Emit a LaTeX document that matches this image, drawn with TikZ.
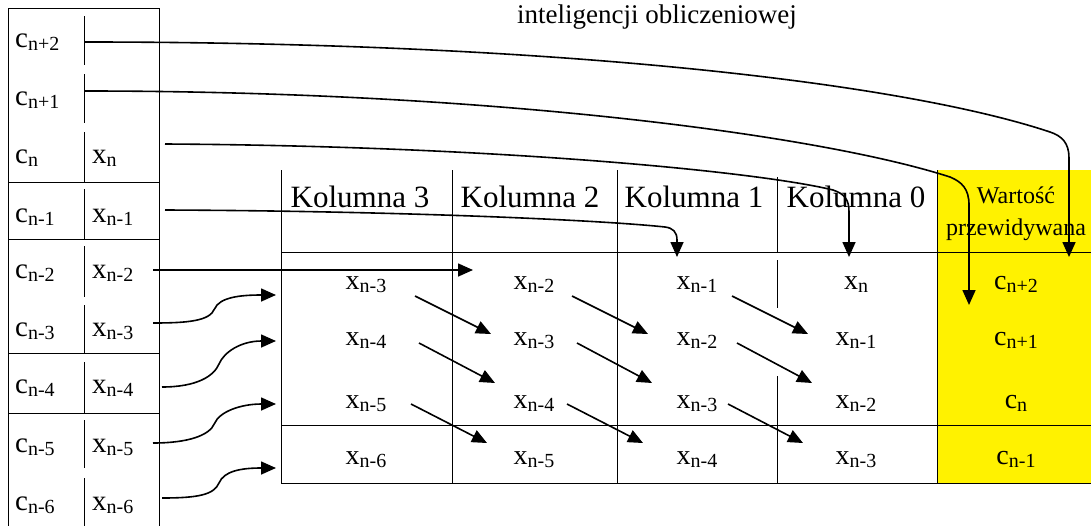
\documentclass[tikz,border=0pt]{standalone}
\usepackage{fontspec}
\setmainfont{Liberation Serif}
\usetikzlibrary{arrows.meta,calc}
\newcommand{\mysub}[2]{#1\raisebox{-3pt}{\fontsize{20}{20}\selectfont #2}}
\begin{document}
\begin{tikzpicture}[x=1pt,y=-1pt,
  gridline/.style={line width=1pt},
  arr/.style={line width=1.6pt,-{Triangle[length=15pt,width=13pt]}},
  lbl/.style={inner sep=0pt,anchor=base west,font=\fontsize{29}{29}\selectfont},
  cell/.style={inner sep=0pt,anchor=base,font=\fontsize{28}{28}\selectfont},
  head/.style={inner sep=0pt,anchor=base,font=\fontsize{31}{31}\selectfont},
  small/.style={inner sep=0pt,anchor=base,font=\fontsize{24}{24}\selectfont},
]
\useasboundingbox (0,0) rectangle (1091,525);

% title fragment
\node[inner sep=0pt,anchor=base,font=\fontsize{27}{27}\selectfont] (title) at (657,23) {inteligencji obliczeniowej};

% ---------- left table ----------
\draw[gridline] (8,540) -- (8,8) -- (159,8) -- (159,540);
\foreach \y in {182,239,353,413} \draw[gridline] (8,\y) -- (159,\y);
\foreach \a/\b in {16/65,74/123,132/182,189/239,246/297,305/353,362/413,420/468,478/540}
  \draw[gridline] (84,\a) -- (84,\b);

\node[lbl] (c2) at (15,47)  {\mysub{c}{n+2}};
\node[lbl] (c1) at (15,105) {\mysub{c}{n+1}};
\node[lbl] (c0) at (15,163) {\mysub{c}{n}};
\node[lbl] (cm1) at (15,222) {\mysub{c}{n-1}};
\node[lbl] (cm2) at (15,278) {\mysub{c}{n-2}};
\node[lbl] (cm3) at (15,336) {\mysub{c}{n-3}};
\node[lbl] (cm4) at (15,393) {\mysub{c}{n-4}};
\node[lbl] (cm5) at (15,452) {\mysub{c}{n-5}};
\node[lbl] (cm6) at (15,510) {\mysub{c}{n-6}};
\node[lbl] (x0) at (92,163) {\mysub{x}{n}};
\node[lbl] (xm1) at (92,222) {\mysub{x}{n-1}};
\node[lbl] (xm2) at (92,278) {\mysub{x}{n-2}};
\node[lbl] (xm3) at (92,336) {\mysub{x}{n-3}};
\node[lbl] (xm4) at (92,393) {\mysub{x}{n-4}};
\node[lbl] (xm5) at (92,452) {\mysub{x}{n-5}};
\node[lbl] (xm6) at (92,510) {\mysub{x}{n-6}};

% ---------- main grid ----------
\fill[yellow] (937,170) rectangle (1091,483);
\draw[gridline] (281,252) -- (1091,252);
\draw[gridline] (281,425) -- (1091,425);
\draw[gridline] (281,483) -- (1091,483);
\draw[gridline] (281,170) -- (281,483);
\draw[gridline] (452,170) -- (452,483);
\draw[gridline] (617,170) -- (617,483);
\draw[gridline] (777,177) -- (777,252);
\draw[gridline] (777,260) -- (777,308);
\draw[gridline] (777,376) -- (777,483);
\draw[gridline] (937,170) -- (937,483);

\node[head] (k3) at (360,207) {Kolumna 3};
\node[head] (k2) at (530,207) {Kolumna 2};
\node[head] (k1) at (694,207) {Kolumna 1};
\node[head] (k0) at (856,207) {Kolumna 0};
\node[small] (w1) at (1016,203) {Wartość};
\node[small] (w2) at (1016,235) {przewidywana};

% cells: column 3
\node[cell] (g31) at (366,289) {\mysub{x}{n-3}};
\node[cell] (g32) at (366,345) {\mysub{x}{n-4}};
\node[cell] (g33) at (366,408) {\mysub{x}{n-5}};
\node[cell] (g34) at (366,464) {\mysub{x}{n-6}};
% column 2
\node[cell] (g21) at (534,289) {\mysub{x}{n-2}};
\node[cell] (g22) at (534,345) {\mysub{x}{n-3}};
\node[cell] (g23) at (534,408) {\mysub{x}{n-4}};
\node[cell] (g24) at (534,464) {\mysub{x}{n-5}};
% column 1
\node[cell] (g11) at (697,289) {\mysub{x}{n-1}};
\node[cell] (g12) at (697,345) {\mysub{x}{n-2}};
\node[cell] (g13) at (697,408) {\mysub{x}{n-3}};
\node[cell] (g14) at (697,464) {\mysub{x}{n-4}};
% column 0
\node[cell] (g01) at (856,289) {\mysub{x}{n}};
\node[cell] (g02) at (856,345) {\mysub{x}{n-1}};
\node[cell] (g03) at (856,408) {\mysub{x}{n-2}};
\node[cell] (g04) at (856,464) {\mysub{x}{n-3}};
% predicted values
\node[cell] (y1) at (1016,289) {\mysub{c}{n+2}};
\node[cell] (y2) at (1016,345) {\mysub{c}{n+1}};
\node[cell] (y3) at (1016,408) {\mysub{c}{n}};
\node[cell] (y4) at (1016,464) {\mysub{c}{n-1}};

% ---------- arrow end points ----------
\coordinate (a1s) at (85,42);   \coordinate (a1e) at (1069,257);
\coordinate (a2s) at (85,91);   \coordinate (a2e) at (969,305);
\coordinate (a3s) at (165,144); \coordinate (a3e) at (849,257);
\coordinate (a4s) at (165,210); \coordinate (a4e) at (677,257);
\coordinate (a5s) at (153,270); \coordinate (a5e) at (473,270);
\coordinate (s6) at (153,323); \coordinate (e6) at (276,295);
\coordinate (s7) at (162,387); \coordinate (e7) at (276,341);
\coordinate (s8) at (153,443); \coordinate (e8) at (276,404);
\coordinate (s9) at (162,498); \coordinate (e9) at (276,468);

\draw[arr] (a1s) .. controls (550,42) and (900,82) .. (1050,132)
           .. controls (1062,136) and (1069,143) .. (1069,158) -- (a1e);
\draw[arr] (a2s) .. controls (490,91) and (820,135) .. (950,177)
           .. controls (962,182) and (969,189) .. (969,205) -- (a2e);
\draw[arr] (a3s) .. controls (500,146) and (760,172) .. (833,190)
           .. controls (845,194) and (849,200) .. (849,212) -- (a3e);
\draw[arr] (a4s) .. controls (400,211) and (600,220) .. (665,227)
           .. controls (673,228) and (677,232) .. (677,240) -- (a4e);
\draw[arr] (a5s) -- (a5e);

\foreach \s/\e in {s6/e6,s7/e7,s8/e8,s9/e9}
  \draw[arr] (\s) .. controls +(35,0) and +(-5,12) .. ($(\s)!0.5!(\e)$)
                  .. controls +(5,-12) and +(-35,0) .. (\e);

% diagonal arrows
\foreach \sx/\sy/\ex/\ey/\n in {415/296/491/334/d1, 572/296/648/334/d2, 732/296/808/334/d3,
                                419/343/495/383/d4, 577/343/652/383/d5, 737/343/812/383/d6,
                                411/404/487/443/d7, 567/404/643/443/d8, 728/404/803/443/d9}{
  \coordinate (\n s) at (\sx,\sy);
  \coordinate (\n e) at (\ex,\ey);
  \draw[arr] (\n s) -- (\n e);
}
\end{tikzpicture}
\end{document}
